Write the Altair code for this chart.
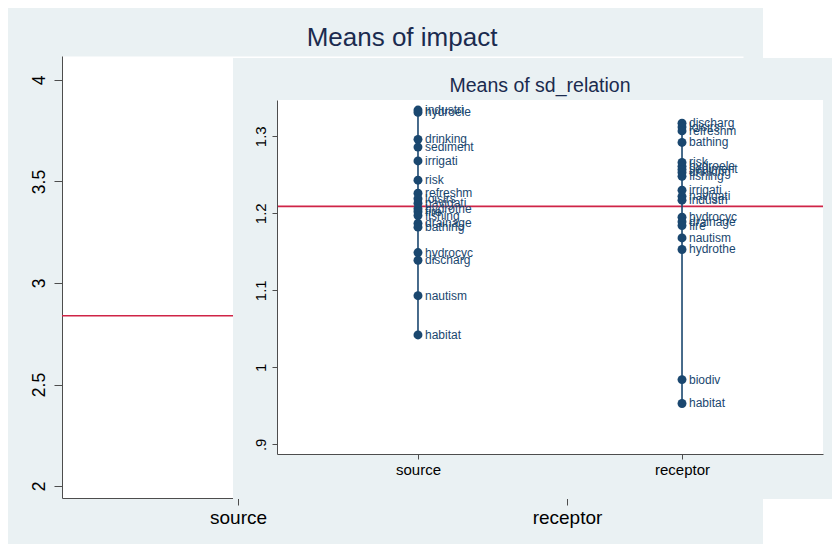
import altair as alt
import pandas as pd

# ---------------- data ----------------
categories = ["source", "receptor"]

source_labels = ["industri", "hydroele", "drinking", "sediment", "irrigati", "risk",
                 "refreshm", "loisirs", "navigati", "hydrothe", "fire", "fishing",
                 "drainage", "bathing", "hydrocyc", "discharg", "nautism", "habitat"]
source_values = [1.334, 1.331, 1.296, 1.286, 1.268, 1.243,
                 1.226, 1.219, 1.213, 1.206, 1.202, 1.197,
                 1.187, 1.182, 1.149, 1.139, 1.093, 1.042]

receptor_labels = ["discharg", "loisirs", "refreshm", "bathing", "risk", "hydroele",
                   "sediment", "drinking", "fishing", "irrigati", "navigati", "industri",
                   "hydrocyc", "drainage", "fire", "nautism", "hydrothe", "biodiv", "habitat"]
receptor_values = [1.317, 1.312, 1.307, 1.292, 1.266, 1.261,
                   1.257, 1.253, 1.248, 1.230, 1.222, 1.217,
                   1.195, 1.189, 1.184, 1.168, 1.153, 0.984, 0.953]

impact_mean = 2.839
sd_mean = 1.209

impact_ticks = [2, 2.5, 3, 3.5, 4]
sd_ticks = [0.9, 1.0, 1.1, 1.2, 1.3]
sd_tick_labels = [".9", "1", "1.1", "1.2", "1.3"]
titles = ["Means of impact", "Means of sd_relation"]

# ---------------- styling ----------------
FONT = "Liberation Sans"
NAVY = "#1A476F"
RED = "#CF2447"
BG = "#EAF1F3"
TITLE_COLOR = "#1B2B4F"
AXIS_COLOR = "#4d4d4d"

back_x_domain = [0.465, 2.535]
back_y_domain = [1.9409, 4.1182]
front_x_domain = [0.466, 2.534]
front_y_domain = [0.8874, 1.3471]

rows = []
for i, (labs, vals) in enumerate([(source_labels, source_values),
                                  (receptor_labels, receptor_values)]):
    for lab, v in zip(labs, vals):
        rows.append({"group": categories[i], "pos": i + 1, "item": lab, "value": v})
df = pd.DataFrame(rows)

cat_expr = " : ".join(f"datum.value == {i + 1} ? '{c}'" for i, c in enumerate(categories)) + " : ''"
sd_expr = " : ".join(f"abs(datum.value - {v}) < 0.001 ? '{l}'" for v, l in zip(sd_ticks, sd_tick_labels)) + " : ''"

one = alt.Data(values=[{}])

# ---------------- back panel ----------------
bx_scale = alt.Scale(domain=back_x_domain, nice=False, zero=False)
by_scale = alt.Scale(domain=back_y_domain, nice=False, zero=False)

back_x_axis = alt.Axis(values=[1, 2], labelExpr=cat_expr, orient="bottom", grid=False,
                       title=None, tickSize=7, tickColor=AXIS_COLOR, domainColor=AXIS_COLOR,
                       labelFontSize=19, labelFont=FONT, labelColor="black", labelPadding=3,
                       zindex=0)
back_y_axis = alt.Axis(values=impact_ticks, format="~g", orient="left", grid=False,
                       title=None, tickSize=8, tickColor=AXIS_COLOR, domainColor=AXIS_COLOR,
                       labelFontSize=17.5, labelFont=FONT, labelColor="black",
                       labelAngle=270, labelAlign="center", labelBaseline="bottom",
                       labelPadding=6, zindex=0)

back_rule = alt.Chart(alt.Data(values=[{"m": impact_mean}])).mark_rule(
    color=RED, strokeWidth=1.6).encode(
    x=alt.XDatum(back_x_domain[0], type="quantitative", scale=bx_scale, axis=back_x_axis),
    x2=alt.X2Datum(back_x_domain[1]),
    y=alt.Y("m:Q", scale=by_scale, axis=back_y_axis),
)
back = alt.layer(back_rule)

# white page areas outside the back panel background
mask_a = alt.Chart(one).mark_rect(color="white").encode(
    x=alt.value(701), x2=alt.value(800), y=alt.value(-60), y2=alt.value(2))
mask_b = alt.Chart(one).mark_rect(color="white").encode(
    x=alt.value(701), x2=alt.value(800), y=alt.value(443), y2=alt.value(500))

# ---------------- front panel ----------------
fx_scale = alt.Scale(domain=front_x_domain, range=[215, 761], nice=False, zero=False)
fy_scale = alt.Scale(domain=front_y_domain, range=[398, 44], nice=False, zero=False)

front_x_axis = alt.Axis(values=[1, 2], labelExpr=cat_expr, orient="bottom", offset=-44,
                        grid=False, title=None, tickSize=5, tickColor=AXIS_COLOR,
                        domainColor=AXIS_COLOR, labelFontSize=15, labelFont=FONT,
                        labelColor="black", labelPadding=3, zindex=1)
front_y_axis = alt.Axis(values=sd_ticks, labelExpr=sd_expr, orient="left", offset=-215,
                        grid=False, title=None, tickSize=5, tickColor=AXIS_COLOR,
                        domainColor=AXIS_COLOR, labelFontSize=15, labelFont=FONT,
                        labelColor="black", labelAngle=270, labelAlign="center",
                        labelBaseline="bottom", labelPadding=4, zindex=1)

front_bg = alt.Chart(one).mark_rect(color=BG).encode(
    x=alt.value(171), x2=alt.value(800), y=alt.value(2), y2=alt.value(443))
front_plot = alt.Chart(one).mark_rect(color="white").encode(
    x=alt.value(215), x2=alt.value(761), y=alt.value(44), y2=alt.value(398))

front_mean = alt.Chart(alt.Data(values=[{"m": sd_mean}])).mark_rule(
    color=RED, strokeWidth=1.6).encode(
    x=alt.XDatum(front_x_domain[0], type="quantitative", scale=fx_scale, axis=front_x_axis),
    x2=alt.X2Datum(front_x_domain[1]),
    y=alt.Y("m:Q", scale=fy_scale, axis=front_y_axis),
)

base = alt.Chart(df)
x_enc = alt.X("pos:Q", scale=fx_scale, axis=front_x_axis)
stems = base.mark_rule(color=NAVY, strokeWidth=1.6).encode(
    x=x_enc,
    y=alt.Y("min(value):Q", scale=fy_scale, axis=front_y_axis),
    y2=alt.Y2("max(value):Q"),
)
dots = base.mark_circle(size=80, color=NAVY, opacity=1).encode(
    x=x_enc,
    y=alt.Y("value:Q", scale=fy_scale, axis=front_y_axis),
)
labels = base.mark_text(align="left", baseline="middle", dx=7, fontSize=12,
                        font=FONT, color=NAVY).encode(
    x=x_enc,
    y=alt.Y("value:Q", scale=fy_scale, axis=front_y_axis),
    text="item:N",
)

front = alt.layer(front_bg, front_plot, front_mean, stems, dots, labels)

# ---------------- titles ----------------
title_back = alt.Chart(alt.Data(values=[{"t": titles[0]}])).mark_text(
    fontSize=26, font=FONT, color=TITLE_COLOR, baseline="middle", align="center").encode(
    text="t:N", x=alt.value(340), y=alt.value(-18))
title_front = alt.Chart(alt.Data(values=[{"t": titles[1]}])).mark_text(
    fontSize=19.5, font=FONT, color=TITLE_COLOR, baseline="middle", align="center").encode(
    text="t:N", x=alt.value(478), y=alt.value(30))

chart = alt.layer(back, mask_a, mask_b, front, title_back, title_front).resolve_scale(
    x="independent", y="independent").resolve_axis(
    x="independent", y="independent").properties(
    width=681, height=442,
    padding={"left": 54, "top": 48, "right": 89, "bottom": 46},
    autosize=alt.AutoSizeParams(type="none"),
    background=BG,
).configure_view(fill="white", stroke="transparent")

chart.save("out.html", embed_options={"renderer": "svg", "actions": False})
